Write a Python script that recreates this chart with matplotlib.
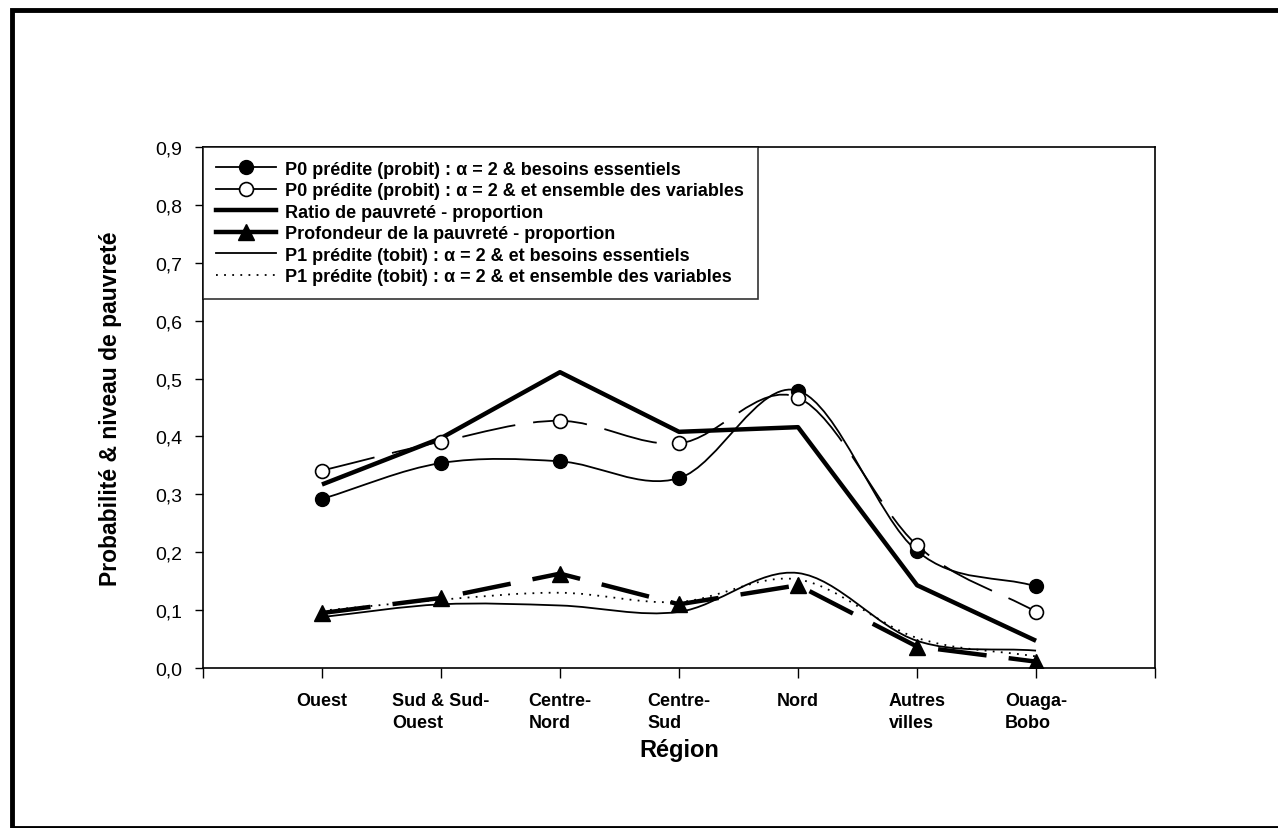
import numpy as np
import matplotlib
matplotlib.use("Agg")
import matplotlib.pyplot as plt
from matplotlib.path import Path
from matplotlib.patches import PathPatch, Rectangle
from matplotlib.lines import Line2D

plt.rcParams['font.family'] = ['Liberation Sans', 'DejaVu Sans']

# Data
regions = ["Ouest", "Sud & Sud-\nOuest", "Centre-\nNord", "Centre-\nSud",
           "Nord", "Autres\nvilles", "Ouaga-\nBobo"]
p0_besoins = [0.292, 0.354, 0.357, 0.328, 0.479, 0.202, 0.141]
p0_ensemble = [0.341, 0.391, 0.427, 0.388, 0.467, 0.212, 0.097]
ratio_pauvrete = [0.317, 0.397, 0.511, 0.408, 0.416, 0.143, 0.047]
profondeur = [0.095, 0.121, 0.163, 0.110, 0.143, 0.037, 0.011]
p1_besoins = [0.088, 0.110, 0.108, 0.097, 0.164, 0.047, 0.030]
p1_ensemble = [0.099, 0.118, 0.130, 0.114, 0.153, 0.052, 0.020]

labels = ["P0 prédite (probit) : α = 2 & besoins essentiels",
          "P0 prédite (probit) : α = 2 & et ensemble des variables",
          "Ratio de pauvreté - proportion",
          "Profondeur de la pauvreté - proportion",
          "P1 prédite (tobit) : α = 2 & et besoins essentiels",
          "P1 prédite (tobit) : α = 2 & et ensemble des variables"]

x = np.arange(1, len(regions) + 1)


def smooth_path(xs, ys):
    # Catmull-Rom style curve drawn as cubic Bezier segments
    xs = np.asarray(xs, float)
    ys = np.asarray(ys, float)
    n = len(xs)
    tx = np.zeros(n)
    ty = np.zeros(n)
    for i in range(n):
        a = max(i - 1, 0)
        b = min(i + 1, n - 1)
        k = 0.5 if 0 < i < n - 1 else 1.0
        tx[i] = (xs[b] - xs[a]) * k
        ty[i] = (ys[b] - ys[a]) * k
    verts = [(xs[0], ys[0])]
    codes = [Path.MOVETO]
    for i in range(n - 1):
        verts += [(xs[i] + tx[i] / 3, ys[i] + ty[i] / 3),
                  (xs[i + 1] - tx[i + 1] / 3, ys[i + 1] - ty[i + 1] / 3),
                  (xs[i + 1], ys[i + 1])]
        codes += [Path.CURVE4] * 3
    return Path(verts, codes)


fig = plt.figure(figsize=(12.78, 8.29), dpi=100)
ax = fig.add_axes([0.1588, 0.193, 0.745, 0.6285])

# outer frame
fig.patches.append(Rectangle((0.0095, 0.0), 0.995, 0.987, transform=fig.transFigure,
                             fill=False, lw=3.5, ec='black'))

# smooth curves
ax.add_patch(PathPatch(smooth_path(x, p0_besoins), fill=False, lw=1.3, ec='black'))
ax.add_patch(PathPatch(smooth_path(x, p0_ensemble), fill=False, lw=1.3, ec='black',
                       ls=(0, (30, 10))))
ax.add_patch(PathPatch(smooth_path(x, p1_besoins), fill=False, lw=1.3, ec='black'))
ax.add_patch(PathPatch(smooth_path(x, p1_ensemble), fill=False, lw=1.3, ec='black',
                       ls=(0, (1, 3.5))))

# straight lines
ax.plot(x, ratio_pauvrete, color='black', lw=3.2, solid_capstyle='butt')
ax.plot(x, profondeur, color='black', lw=3.2, ls=(0, (11, 5)), dash_capstyle='butt')

# markers
ax.plot(x, p0_besoins, ls='none', marker='o', ms=10, mfc='black', mec='black')
ax.plot(x, p0_ensemble, ls='none', marker='o', ms=10, mfc='white', mec='black', mew=1.2)
ax.plot(x, profondeur, ls='none', marker='^', ms=11, mfc='black', mec='black')

ax.set_xlim(0, 8)
ax.set_ylim(0, 0.9)
ax.set_xticks(range(0, 9))
ax.set_xticklabels([""] + regions + [""], fontweight='bold', fontsize=13,
                   multialignment='left', linespacing=1.4)
ax.set_yticks(np.arange(0, 0.91, 0.1))
ax.set_yticklabels([f"{v:.1f}".replace('.', ',') for v in np.arange(0, 0.91, 0.1)],
                   fontsize=14)
ax.tick_params(axis='x', direction='out', length=7, width=1, pad=10)
ax.tick_params(axis='y', direction='out', length=6, width=1, pad=9)
for s in ax.spines.values():
    s.set_linewidth(1.2)

ax.set_xlabel("Région", fontsize=17, fontweight='bold', labelpad=5)
ax.set_ylabel("Probabilité & niveau de pauvreté", fontsize=16.5, fontweight='bold',
              labelpad=24)

handles = [
    Line2D([], [], color='black', lw=1.3, marker='o', ms=10, mfc='black'),
    Line2D([], [], color='black', lw=1.3, marker='o', ms=10, mfc='white', mew=1.2),
    Line2D([], [], color='black', lw=3.2),
    Line2D([], [], color='black', lw=3.2, marker='^', ms=11),
    Line2D([], [], color='black', lw=1.3),
    Line2D([], [], color='black', lw=1.3, ls=(0, (1, 3.5))),
]
leg = ax.legend(handles, labels, loc='upper left', bbox_to_anchor=(0, 1),
                borderaxespad=0, frameon=True, fancybox=False, handlelength=3.3,
                prop={'weight': 'bold', 'size': 13}, labelspacing=0.25,
                borderpad=0.75, handletextpad=0.5)
leg.get_frame().set_edgecolor('black')
leg.get_frame().set_linewidth(1.2)

fig.savefig("out.png", dpi=100)
